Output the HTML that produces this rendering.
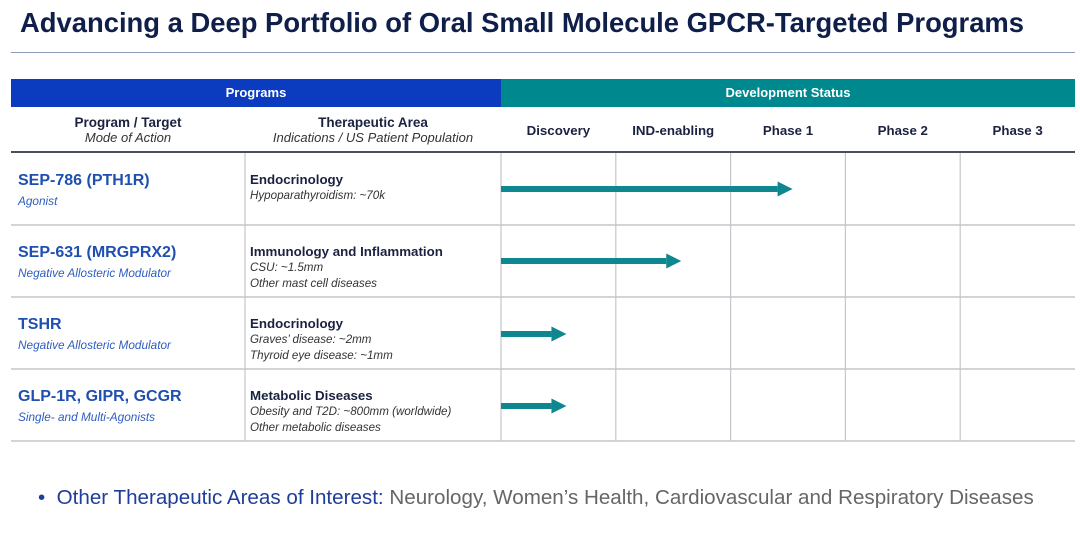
<!DOCTYPE html>
<html><head><meta charset="utf-8">
<style>
body{margin:0;width:1080px;height:537px;background:#fff;overflow:hidden;font-family:"Liberation Sans",Arial,sans-serif;position:relative}
.a{position:absolute;white-space:nowrap}
.h{font-weight:bold;color:#1a2240;font-size:13.5px}
.it{font-style:italic;font-size:11.5px;color:#333}
.pn{font-weight:bold;color:#1f4fb0;font-size:16px}
.pm{font-style:italic;color:#2f5cbf;font-size:11.8px}
.ta{font-weight:bold;color:#1a2240;font-size:13.3px}
.ti{font-style:italic;color:#333;font-size:11.6px;line-height:16px}
</style></head><body>
<div class="a" style="left:20px;top:7px;font-size:27.4px;font-weight:bold;color:#0f1f4a">Advancing a Deep Portfolio of Oral Small Molecule GPCR-Targeted Programs</div>
<div class="a" style="left:11px;top:52px;width:1064px;height:1px;background:#8a9ab8"></div>
<div class="a" style="left:11px;top:79px;width:490px;height:28px;background:#0b3cbf;color:#fff;font-weight:bold;font-size:13px;text-align:center;line-height:28px">Programs</div>
<div class="a" style="left:501px;top:79px;width:574px;height:28px;background:#00888f;color:#fff;font-weight:bold;font-size:13px;text-align:center;line-height:28px">Development Status</div>
<div class="a" style="left:11px;top:115px;width:234px;text-align:center"><div class="h">Program / Target</div><div class="it" style="font-size:13px">Mode of Action</div></div>
<div class="a" style="left:245px;top:115px;width:256px;text-align:center"><div class="h">Therapeutic Area</div><div class="it" style="font-size:13px">Indications / US Patient Population</div></div>
<svg class="a" style="left:0;top:0" width="1080" height="537" id="chart"></svg>
<div id="rows"></div>
<div class="a" style="left:38px;top:486px;font-size:20.6px;color:#1f3d9a">•&nbsp; Other Therapeutic Areas of Interest: <span style="color:#666">Neurology, Women’s Health, Cardiovascular and Respiratory Diseases</span></div>
<script>
const stages=["Discovery","IND-enabling","Phase 1","Phase 2","Phase 3"];
const programs=["SEP-786 (PTH1R)","SEP-631 (MRGPRX2)","TSHR","GLP-1R, GIPR, GCGR"];
const modes=["Agonist","Negative Allosteric Modulator","Negative Allosteric Modulator","Single- and Multi-Agonists"];
const areas=["Endocrinology","Immunology and Inflammation","Endocrinology","Metabolic Diseases"];
const indications=[["Hypoparathyroidism: ~70k"],["CSU: ~1.5mm","Other mast cell diseases"],["Graves’ disease: ~2mm","Thyroid eye disease: ~1mm"],["Obesity and T2D: ~800mm (worldwide)","Other metabolic diseases"]];
const progress=[2.54,1.57,0.57,0.57];
const NS="http://www.w3.org/2000/svg";
const svg=document.getElementById('chart');
const x0=501,colW=114.8,rowTop=153,rowH=72;
const xs=v=>x0+v*colW;
const ys=i=>rowTop+i*rowH;
function el(t,a){const e=document.createElementNS(NS,t);for(const k in a)e.setAttribute(k,a[k]);svg.appendChild(e);return e;}
let l=el('line',{x1:11,x2:1075,y1:152,y2:152,stroke:'#4a4f60','stroke-width':2});


for(let i=1;i<=programs.length;i++){
 const r=el('line',{x1:11,x2:1075,y1:ys(i),y2:ys(i),stroke:'#c4c6cc','stroke-width':1.5});
 
 
}
const vx=[245].concat(stages.map((s,i)=>xs(i)));
vx.forEach(x=>{
 const v=el('line',{x1:x,x2:x,y1:153,y2:ys(programs.length),stroke:'#c4c6cc','stroke-width':1.2});
 
 
});
stages.forEach((s,i)=>{
 const t=el('text',{x:xs(i+0.5),y:135,'text-anchor':'middle','font-size':13.3,'font-weight':'bold',fill:'#1a2240','font-family':'Liberation Sans, sans-serif'});
 t.textContent=s;
 
 
});
progress.forEach((p,i)=>{
 const y=ys(i)+rowH/2+(i>=2?1:0);
 const end=xs(p);
 const g=el('g',{fill:'#0e8790'});
 
 
 const r=document.createElementNS(NS,'rect');
 r.setAttribute('x',x0);r.setAttribute('y',y-3);r.setAttribute('width',end-15-x0);r.setAttribute('height',6);
 g.appendChild(r);
 const h=document.createElementNS(NS,'polygon');
 h.setAttribute('points',`${end-15},${y-7.5} ${end},${y} ${end-15},${y+7.5}`);
 g.appendChild(h);
});
const rows=document.getElementById('rows');
programs.forEach((p,i)=>{
 const d=document.createElement('div');
 d.className='a';d.style.left='18px';d.style.top=(ys(i)+19)+'px';
 
 
 d.innerHTML=`<div class="pn">${p}</div><div class="pm" style="margin-top:4px">${modes[i]}</div>`;
 rows.appendChild(d);
 const e=document.createElement('div');
 e.className='a';e.style.left='250px';e.style.top=(ys(i)+19)+'px';
 
 
 e.innerHTML=`<div class="ta" style="margin-bottom:1px">${areas[i]}</div>`+indications[i].map(s=>`<div class="ti">${s}</div>`).join('');
 rows.appendChild(e);
});
</script>
</body></html>
